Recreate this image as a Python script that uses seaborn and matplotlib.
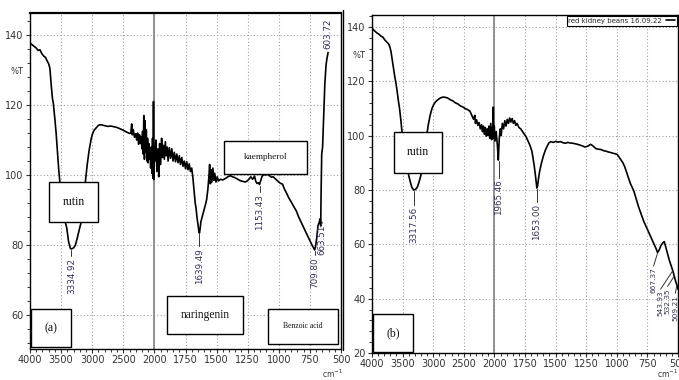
import numpy as np
import pandas as pd
import seaborn as sns
import matplotlib
matplotlib.use('Agg')
import matplotlib.pyplot as plt
from matplotlib.ticker import FixedLocator, MultipleLocator
from matplotlib.patches import Rectangle

# ---- spectrum (a) : wavenumber (cm-1) / %T ----
wn_a = [4000, 3950, 3900, 3870, 3840, 3810, 3780, 3750, 3730, 3700, 3680, 3660, 3640, 3625,
        3600, 3580, 3560, 3540, 3520, 3500, 3470, 3440, 3410, 3380, 3350, 3330, 3300, 3270,
        3240, 3200, 3170, 3140, 3110, 3080, 3050, 3020, 3000, 2970, 2930, 2900, 2870, 2800,
        2750, 2700, 2650, 2600, 2550, 2500, 2450, 2400,
        2380, 2365, 2355, 2340, 2320, 2300, 2285, 2270, 2255, 2240, 2230, 2215, 2200, 2190,
        2180, 2170, 2160, 2150, 2140, 2130, 2120, 2110, 2100, 2090, 2080, 2070, 2060, 2050,
        2040, 2030, 2020, 2015, 2008, 2000,
        1995, 1988, 1980, 1972, 1965, 1958, 1950, 1942, 1935, 1928, 1920, 1912, 1905, 1897,
        1890, 1880, 1870, 1860, 1850, 1840, 1830, 1820, 1810, 1800, 1790, 1780, 1770, 1760,
        1750, 1740, 1730, 1720, 1710, 1700, 1690, 1680, 1672, 1665, 1658, 1650, 1643, 1638,
        1633, 1627, 1620, 1605, 1590, 1580, 1570, 1562, 1556, 1550, 1545, 1538, 1530, 1522,
        1515, 1505, 1495, 1485, 1470, 1450, 1430, 1410, 1390, 1370, 1350, 1330, 1310, 1290,
        1270, 1255, 1240, 1225, 1210, 1195, 1185, 1175, 1165, 1155, 1145, 1135, 1120, 1105,
        1090, 1075, 1060, 1045, 1030, 1015, 1000, 985, 970, 955, 940, 920, 900, 880, 860,
        840, 820, 800, 780, 760, 740, 725, 712, 705, 695, 685, 675, 668, 663, 660, 655, 648,
        640, 630, 620, 612, 604]
t_a = [137.7, 137.0, 136.3, 135.6, 135.8, 134.7, 134.0, 133.6, 132.8, 131.8, 130.5, 126.0, 122.0, 120.5,
       116.0, 112.0, 107.0, 102.0, 98.0, 94.0, 90.0, 87.0, 85.0, 81.0, 79.0, 78.9, 79.2, 80.0,
       82.0, 85.0, 87.0, 93.0, 98.0, 103.0, 107.0, 110.0, 111.5, 112.8, 113.6, 114.2, 114.4, 114.1,
       113.9, 114.0, 113.8, 113.6, 113.2, 112.8, 112.3, 111.9,
       112.0, 114.6, 111.5, 113.0, 110.8, 111.8, 110.0, 112.0, 108.8, 111.5, 109.0, 111.0, 107.5, 112.5,
       106.0, 117.0, 104.5, 115.5, 106.5, 113.0, 104.0, 110.5, 103.5, 109.0, 104.5, 107.5, 102.0, 108.0,
       100.5, 110.5, 99.0, 121.0, 98.7, 108.0,
       104.0, 110.0, 101.0, 107.5, 99.5, 109.0, 103.0, 110.5, 105.0, 108.5, 104.5, 109.5, 105.5, 108.0,
       104.0, 107.8, 104.8, 107.5, 104.0, 106.5, 103.8, 106.0, 103.5, 105.5, 103.0, 105.0, 102.5, 104.0,
       101.8, 103.8, 101.5, 103.2, 101.0, 102.0, 99.0, 95.0, 92.0, 90.5, 88.0, 86.0, 84.0, 83.4,
       84.5, 86.5, 87.5, 89.5, 91.5, 93.0, 96.0, 99.5, 103.0, 97.5, 101.5, 98.0, 102.0, 98.5,
       100.5, 98.0, 99.5, 98.3, 98.8, 98.6, 99.0, 99.5, 99.8, 99.5, 99.2, 98.8, 98.4, 98.2,
       98.0, 98.3, 98.8, 99.5, 98.8, 99.7, 98.2, 97.6, 97.8, 97.3, 98.5, 99.6, 100.2, 100.0,
       100.3, 99.8, 99.4, 99.5, 99.0, 98.5, 98.0, 97.6, 97.4, 96.0, 95.0, 93.5, 92.3, 91.0, 89.8,
       88.0, 86.5, 85.0, 83.5, 82.0, 80.5, 79.5, 78.6, 79.5, 82.0, 85.5, 86.5, 87.5, 85.5, 95.0, 106.0, 108.0,
       116.0, 126.0, 131.5, 133.5, 135.0]

# ---- spectrum (b) : red kidney beans ----
wn_b = [4000, 3960, 3920, 3880, 3850, 3820, 3790, 3760, 3730, 3710, 3690, 3670, 3650, 3630,
        3610, 3590, 3570, 3550, 3530, 3510, 3490, 3470, 3450, 3430, 3410, 3380, 3350, 3320,
        3290, 3260, 3230, 3200, 3170, 3140, 3110, 3080, 3050, 3020, 2990, 2960, 2920, 2880,
        2840, 2800, 2760, 2720, 2680, 2640, 2600, 2560, 2520, 2480, 2440, 2400, 2370, 2340,
        2320, 2310, 2290, 2270, 2250, 2230, 2210, 2195, 2180, 2165, 2150, 2135, 2120, 2105,
        2090, 2075, 2060, 2045, 2035, 2025, 2018, 2010, 2002, 1995, 1985, 1975, 1968, 1960,
        1952, 1945, 1935, 1925, 1915, 1905, 1895, 1885, 1875, 1865, 1855, 1845, 1835, 1825,
        1815, 1800, 1785, 1770, 1755, 1740, 1725, 1710, 1695, 1685, 1675, 1665, 1658, 1653,
        1647, 1640, 1630, 1615, 1600, 1585, 1570, 1555, 1540, 1520, 1500, 1480, 1460, 1440,
        1420, 1400, 1380, 1360, 1340, 1320, 1300, 1280, 1260, 1245, 1230, 1215, 1200, 1185,
        1170, 1150, 1130, 1110, 1090, 1070, 1050, 1030, 1010, 995, 980, 965, 950, 935, 920,
        905, 890, 875, 860, 840, 820, 800, 780, 760, 740, 720, 700, 680, 667, 655, 640, 625,
        612, 600, 585, 570, 555, 544, 532, 520, 509, 500]
t_b = [139.5, 138.6, 137.8, 137.2, 136.6, 136.2, 135.2, 134.5, 133.8, 132.8, 131.0, 128.0, 125.0, 122.0,
       119.5, 116.5, 113.0, 110.0, 106.0, 101.5, 97.0, 94.0, 91.0, 88.5, 86.3, 83.5, 81.0, 80.0,
       80.2, 81.0, 83.0, 85.5, 89.0, 94.0, 99.5, 104.0, 107.5, 110.0, 111.5, 112.5, 113.3, 113.9,
       114.2, 114.1, 113.8, 113.2, 112.8, 112.1, 111.7, 111.0, 110.6, 110.0, 109.6, 109.0, 107.5, 106.0,
       107.5, 104.5, 105.8, 103.8, 104.8, 102.5, 104.0, 101.5, 103.5, 100.5, 103.0, 99.8, 102.5, 100.0,
       103.5, 99.0, 104.5, 98.5, 103.0, 100.0, 110.5, 99.0, 103.5, 98.0, 101.5, 96.0, 91.0, 99.0,
       102.5, 100.0, 104.5, 102.5, 105.5, 103.5, 106.0, 104.5, 106.5, 105.0, 106.3, 104.5, 105.5, 103.8,
       104.5, 103.0, 102.5, 101.5, 100.5, 99.5, 98.0, 96.5, 94.5, 92.0, 89.0, 85.5, 82.5, 80.7,
       81.5, 84.0, 87.0, 90.0, 92.5, 94.5, 96.0, 97.3, 97.8, 97.5, 97.9, 97.6, 97.8, 97.4,
       97.2, 97.5, 97.3, 97.2, 97.0, 96.8, 96.5, 96.2, 95.8, 96.0, 96.3, 96.8, 96.4, 95.8,
       95.2, 95.0, 94.9, 94.5, 94.3, 94.0, 93.8, 93.5, 93.3, 93.0, 92.0, 91.0, 90.0, 88.5, 86.5,
       84.5, 82.5, 81.0, 79.5, 76.5, 73.5, 71.0, 68.5, 66.5, 64.5, 62.5, 60.5, 58.5, 57.0, 57.8, 59.5, 60.5,
       61.0, 59.0, 56.5, 54.0, 52.0, 50.5, 48.5, 46.5, 45.0, 43.5]

# peak labels
a_peak_wn = [3334.92, 1639.49, 1153.43, 709.80, 663.51]
a_peak_t = [78.9, 83.4, 97.3, 78.6, 85.5]
a_lab_wn = [3334.92, 1639.49, 1153.43, 709.80, 650]
a_lab_t = [76.8, 79.6, 95.2, 77.2, 86.5]
b_peak_wn = [3317.56, 1965.46, 1653.00, 667.37, 543.93, 532.35, 509.21]
b_peak_t = [80.0, 91.0, 80.7, 57.0, 50.5, 48.5, 45.0]
b_lab_wn = [3317.56, 1965.46, 1653.00, 700, 642, 585, 522]
b_lab_t = [74.5, 84.5, 75.5, 52.0, 43.5, 44.5, 42.0]
b_lab_fs = [6.3, 6.3, 6.3, 5.3, 5.3, 5.3, 5.3]

df_a = pd.DataFrame({'wn': wn_a, 'T': t_a})
df_b = pd.DataFrame({'wn': wn_b, 'T': t_b})


def fwd(w):
    w = np.asarray(w, dtype=float)
    return np.where(w <= 2000, (w - 500) / 1500 * 0.6, 0.6 + (w - 2000) / 2000 * 0.4)


def inv(p):
    p = np.asarray(p, dtype=float)
    return np.where(p <= 0.6, 500 + p / 0.6 * 1500, 2000 + (p - 0.6) / 0.4 * 2000)


sns.set_theme(style='ticks')
plt.rcParams['font.family'] = ['Liberation Sans Narrow', 'DejaVu Sans']

fig = plt.figure(figsize=(6.79, 3.80), dpi=100)
ax_a = fig.add_axes([30 / 679, 1 - 349 / 380, 311 / 679, 336 / 380])
ax_b = fig.add_axes([372 / 679, 1 - 353 / 380, 306 / 679, 338 / 380])

sns.lineplot(data=df_a, x='wn', y='T', ax=ax_a, color='black', lw=1.2, sort=False, estimator=None)
sns.lineplot(data=df_b, x='wn', y='T', ax=ax_b, color='black', lw=1.2, sort=False, estimator=None,
             label='red kidney beans 16.09.22')

major_x = [4000, 3500, 3000, 2500, 2000, 1750, 1500, 1250, 1000, 750, 500]
minor_x = [w for w in range(3900, 2000, -100) if w % 500] + [w for w in range(1950, 500, -50) if w % 250]

for ax, ylim, yt in [(ax_a, (50.3, 146.3), [60, 80, 100, 120, 140]),
                     (ax_b, (20, 144.4), [20, 40, 60, 80, 100, 120, 140])]:
    ax.set_xscale('function', functions=(fwd, inv))
    ax.set_xlim(4000, 500)
    ax.set_ylim(*ylim)
    ax.xaxis.set_major_locator(FixedLocator(major_x))
    ax.xaxis.set_minor_locator(FixedLocator(minor_x))
    ax.set_xticklabels([str(v) for v in major_x])
    ax.set_yticks(yt)
    ax.yaxis.set_minor_locator(MultipleLocator(4))
    ax.grid(True, which='major', ls=(0, (1, 2)), color='#a0a0a0', lw=0.8)
    ax.axvline(2000, color='#8a8a8a', lw=1.3, zorder=1)
    ax.tick_params(which='major', labelsize=7, length=3, width=0.8, pad=1.5, colors='#333333')
    ax.tick_params(which='minor', length=2, width=0.7, colors='#333333')
    ax.set_xlabel('')
    ax.set_ylabel('')
    for s in ax.spines.values():
        s.set_color('black')
        s.set_linewidth(1.0)
ax_a.spines['top'].set_linewidth(1.6)

# text boxes
serif = ['Liberation Serif', 'DejaVu Serif']
boxes_a = [(0.061, 0.378, 0.158, 0.119, 'rutin', 8.5),
           (0.624, 0.521, 0.267, 0.098, 'kaempherol', 6.6),
           (0.003, 0.006, 0.129, 0.113, '(a)', 8.5),
           (0.440, 0.045, 0.245, 0.113, 'naringenin', 8.3),
           (0.765, 0.015, 0.225, 0.104, 'Benzoic acid', 5.5)]
boxes_b = [(0.072, 0.533, 0.156, 0.121, 'rutin', 8.5),
           (0.002, 0.002, 0.132, 0.113, '(b)', 8.5)]
for ax, boxes in [(ax_a, boxes_a), (ax_b, boxes_b)]:
    for x0, y0, w, h, txt, fs in boxes:
        ax.add_patch(Rectangle((x0, y0), w, h, transform=ax.transAxes, facecolor='white',
                               edgecolor='black', lw=1.0, zorder=5))
        ax.text(x0 + w / 2, y0 + h / 2, txt, transform=ax.transAxes, ha='center', va='center',
                fontsize=fs, family=serif, color='#111111', zorder=6)

# peak labels
for ax, pw, pt, lw_, lt, fss in [(ax_a, a_peak_wn, a_peak_t, a_lab_wn, a_lab_t, [6.3] * 5),
                                 (ax_b, b_peak_wn, b_peak_t, b_lab_wn, b_lab_t, b_lab_fs)]:
    for w, t, x, y, fs in zip(pw, pt, lw_, lt, fss):
        ax.plot([w, x], [t - 0.3, y], color='#333333', lw=0.7, zorder=4)
        ax.text(x, y - 0.6, f'{w:.2f}', rotation=90, ha='center', va='top', fontsize=fs,
                color='#333355', zorder=4)
ax_a.text(604, 136, '603.72', rotation=90, ha='center', va='bottom', fontsize=6.3, color='#333355')

leg = ax_b.legend(loc='upper right', fontsize=5, frameon=True, fancybox=False, edgecolor='black',
                  framealpha=1, markerfirst=False, handlelength=1.4, borderpad=0.25,
                  borderaxespad=0.15, handletextpad=0.5)
leg.get_frame().set_linewidth(0.8)

fig.text(17 / 679, 1 - 72 / 380, '%T', fontsize=6, color='#333333', ha='center', va='center')
fig.text(359 / 679, 1 - 55 / 380, '%T', fontsize=6, color='#333333', ha='center', va='center')
fig.text(333 / 679, 1 - 374 / 380, 'cm$^{-1}$', fontsize=5.5, color='#333333', ha='center', va='center')
fig.text(668 / 679, 1 - 374 / 380, 'cm$^{-1}$', fontsize=5.5, color='#333333', ha='center', va='center')
fig.add_artist(plt.Line2D([343 / 679, 343 / 679], [1 - 350 / 380, 1 - 10 / 380], color='black', lw=1.0))

fig.savefig('out.png', dpi=100)
